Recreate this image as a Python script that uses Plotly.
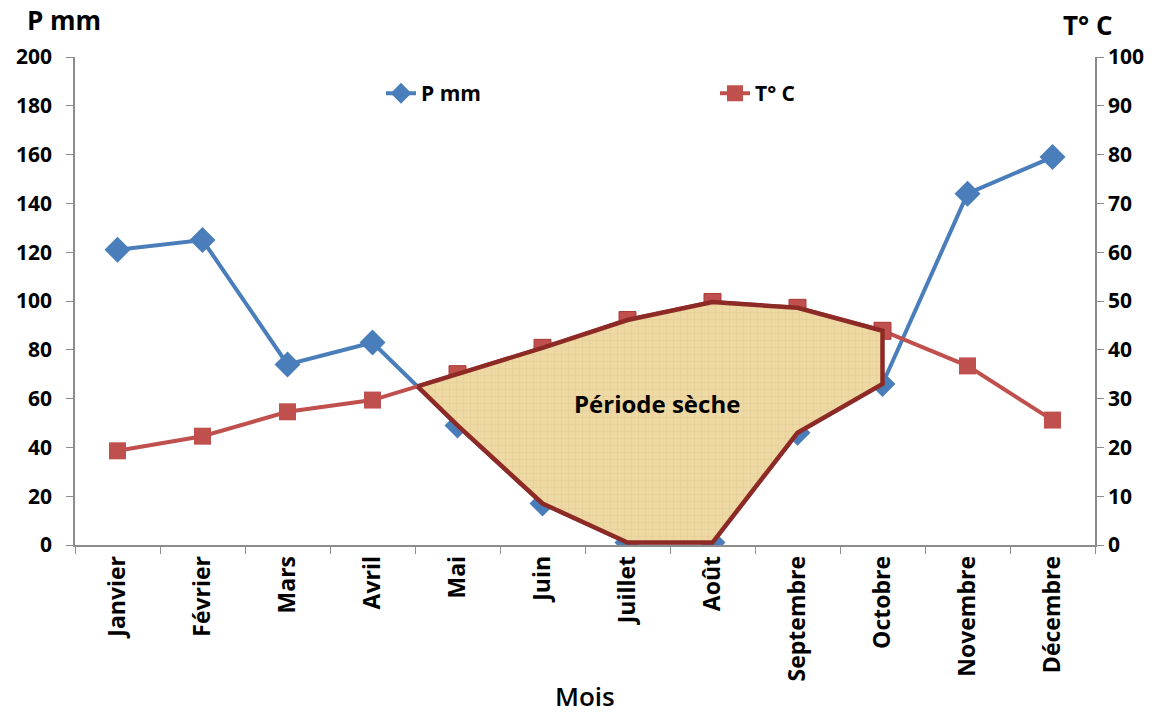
import plotly.graph_objects as go

# Monthly climate data
mois = ["Janvier", "Février", "Mars", "Avril", "Mai", "Juin", "Juillet",
        "Août", "Septembre", "Octobre", "Novembre", "Décembre"]
p_mm = [121, 125, 74, 83, 49, 17, 1, 1, 46, 66, 144, 159]
t_c = [19.3, 22.3, 27.3, 29.7, 35.0, 40.4, 46.1, 49.8, 48.6, 43.9, 36.7, 25.6]

BLUE = "#4a7ebb"
RED = "#c0504d"
DARK_RED = "#8e2a26"
FONT = "Open Sans"

# Dry period polygon (Gaussen: P < 2T), computed on the P scale
idx = list(range(len(mois)))
t2 = [2 * t for t in t_c]
dry = [i for i in idx if p_mm[i] < t2[i]]
first, last = dry[0], dry[-1]
# crossing between the month before the dry period and its first month
a, b = first - 1, first
da = p_mm[a] - t2[a]
db = p_mm[b] - t2[b]
f = da / (da - db)
cx = a + f
cy = p_mm[a] + f * (p_mm[b] - p_mm[a])
poly_x = [cx] + dry + dry[::-1] + [cx]
poly_y = [cy] + [t2[i] for i in dry] + [p_mm[i] for i in dry[::-1]] + [cy]

fig = go.Figure()

fig.add_trace(go.Scatter(
    x=mois, y=p_mm, name="P mm", mode="lines+markers",
    line=dict(color=BLUE, width=4),
    marker=dict(symbol="diamond", size=20, color=BLUE),
    yaxis="y", xaxis="x",
))
fig.add_trace(go.Scatter(
    x=mois, y=t_c, name="T° C", mode="lines+markers",
    line=dict(color=RED, width=4),
    marker=dict(symbol="square", size=17, color=RED),
    yaxis="y2", xaxis="x",
))
fig.add_trace(go.Scatter(
    x=poly_x, y=poly_y, mode="lines", fill="toself",
    fillcolor="#edd8a2",
    fillpattern=dict(shape="+", bgcolor="#eed9a4", fgcolor="#d6bc84",
                     size=7, solidity=0.12, fgopacity=0.55),
    line=dict(color=DARK_RED, width=4.5),
    xaxis="x2", yaxis="y", showlegend=False, hoverinfo="skip",
))
fig.add_trace(go.Scatter(
    x=[mois[i] for i in dry], y=[t_c[i] for i in dry], mode="markers",
    marker=dict(symbol="square", size=17, color=RED,
                line=dict(color="#a83e3a", width=1)),
    yaxis="y2", xaxis="x", showlegend=False, hoverinfo="skip",
))

axis_line = dict(showline=True, linecolor="#8c8c8c", linewidth=1.5,
                 showgrid=False, zeroline=False)

fig.update_layout(
    width=1166, height=717,
    margin=dict(l=75, r=71, t=57, b=172),
    plot_bgcolor="white", paper_bgcolor="white",
    font=dict(family=FONT, color="black"),
    xaxis=dict(type="category", range=[-0.5, 11.5], tickangle=-90,
               tickson="boundaries", ticks="outside", ticklen=7,
               tickcolor="#8c8c8c",
               tickfont=dict(size=23, family=FONT, weight="bold"),
               **axis_line),
    xaxis2=dict(overlaying="x", range=[-0.5, 11.5], visible=False),
    yaxis=dict(range=[0, 200], dtick=20, ticks="outside", ticklen=7,
               tickcolor="#8c8c8c", ticklabelstandoff=10,
               tickfont=dict(size=21, family=FONT, weight="bold"),
               **axis_line),
    yaxis2=dict(range=[0, 100], dtick=10, overlaying="y", side="right",
                ticks="outside", ticklen=7, tickcolor="#8c8c8c",
                tickfont=dict(size=21, family=FONT, weight="bold"),
                **axis_line),
    legend=dict(orientation="h", x=0.300, y=0.925, xanchor="left",
                yanchor="middle", entrywidth=289,
                font=dict(size=21, family=FONT, weight="bold"),
                bgcolor="rgba(0,0,0,0)"),
    annotations=[
        dict(text="P mm", xref="paper", yref="paper", x=-0.049, y=1.076,
             xanchor="left", yanchor="middle", showarrow=False,
             font=dict(size=26, family=FONT, weight="bold")),
        dict(text="T° C", xref="paper", yref="paper", x=1.0196, y=1.066,
             xanchor="right", yanchor="middle", showarrow=False,
             font=dict(size=26, family=FONT, weight="bold")),
        dict(text="Mois", xref="paper", yref="paper", x=0.5, y=-0.309,
             xanchor="center", yanchor="middle", showarrow=False,
             font=dict(size=26, family=FONT, weight=600)),
        dict(text="Période sèche", xref="x2", yref="y", x=6.35, y=58,
             showarrow=False,
             font=dict(size=24, family=FONT, weight="bold")),
    ],
)

fig.write_html("out.html")
